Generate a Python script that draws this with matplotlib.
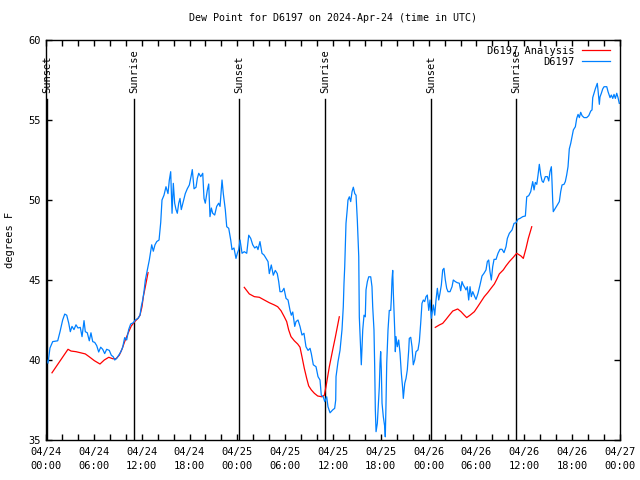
import numpy as np
import matplotlib
matplotlib.use('Agg')
import matplotlib.pyplot as plt

# hours after 2024-04-24 00:00 UTC, dew point in degrees F
obs_hours = [0.08, 0.25, 0.50, 0.84, 1.47, 1.76, 2.09, 2.35, 2.60, 2.85, 3.05, 3.26, 3.51, 3.76, 4.01,
             4.30, 4.52, 4.77, 4.93, 5.18, 5.43, 5.64, 5.86, 6.11, 6.36, 6.61, 6.86, 7.11, 7.36, 7.61,
             7.94, 8.19, 8.44, 8.62, 8.87, 9.12, 9.37, 9.62, 9.87, 10.12, 10.37, 10.62, 10.95, 11.20,
             11.54, 11.79, 11.95, 12.13, 12.29, 12.46, 12.96, 13.26, 13.46, 13.67, 13.89, 14.18, 14.39,
             14.55, 14.80, 15.05, 15.30, 15.47, 15.64, 15.81, 15.97, 16.14, 16.31, 16.47, 16.65, 16.81,
             16.97, 17.22, 17.47, 17.72, 17.98, 18.23, 18.35, 18.57, 18.82, 18.98, 19.16, 19.41, 19.66,
             19.82, 19.98, 20.23, 20.41, 20.57, 20.74, 20.91, 21.16, 21.41, 21.66, 21.83, 22.08, 22.24,
             22.49, 22.67, 22.92, 23.17, 23.33, 23.58, 23.83, 24.00, 24.17, 24.34, 24.59, 24.87, 25.18,
             25.43, 25.68, 25.93, 26.18, 26.43, 26.59, 26.84, 27.09, 27.35, 27.60, 27.85, 28.01, 28.26,
             28.51, 28.76, 29.01, 29.19, 29.35, 29.60, 29.85, 30.11, 30.36, 30.61, 30.77, 30.95, 31.20,
             31.36, 31.61, 31.86, 32.11, 32.36, 32.61, 32.87, 33.12, 33.28, 33.53, 33.87, 34.12, 34.37,
             34.53, 34.78, 34.96, 35.21, 35.37, 35.63, 35.96, 36.21, 36.34, 36.38, 36.63, 36.88, 37.13,
             37.29, 37.38, 37.47, 37.54, 37.63, 37.80, 37.88, 38.05, 38.22, 38.39, 38.55, 38.73, 38.89,
             39.05, 39.23, 39.30, 39.48, 39.55, 39.64, 39.73, 39.89, 40.05, 40.14, 40.31, 40.48, 40.73,
             40.89, 40.98, 41.14, 41.23, 41.31, 41.40, 41.56, 41.65, 41.81, 41.90, 41.98, 42.06, 42.15,
             42.31, 42.49, 42.56, 42.65, 42.74, 42.90, 42.99, 43.06, 43.24, 43.31, 43.40, 43.49, 43.57,
             43.74, 43.82, 43.90, 44.07, 44.24, 44.41, 44.57, 44.74, 44.82, 45.00, 45.16, 45.32, 45.50,
             45.57, 45.75, 45.91, 46.07, 46.25, 46.41, 46.66, 46.83, 47.00, 47.16, 47.33, 47.50, 47.67,
             47.83, 48.01, 48.17, 48.33, 48.58, 48.76, 48.92, 49.09, 49.26, 49.42, 49.59, 49.76, 49.92,
             50.09, 50.26, 50.43, 50.68, 50.93, 51.09, 51.34, 51.59, 51.84, 52.02, 52.18, 52.34, 52.52,
             52.68, 52.85, 53.02, 53.19, 53.35, 53.53, 53.78, 53.94, 54.19, 54.44, 54.69, 54.94, 55.19,
             55.36, 55.53, 55.69, 55.86, 56.03, 56.20, 56.45, 56.70, 56.95, 57.20, 57.45, 57.70, 57.87,
             58.12, 58.29, 58.46, 58.71, 58.96, 59.21, 59.46, 59.80, 60.13, 60.30, 60.55, 60.80, 61.05,
             61.22, 61.38, 61.56, 61.72, 61.88, 62.06, 62.22, 62.38, 62.63, 62.89, 63.06, 63.22, 63.39,
             63.47, 63.56, 63.63, 63.89, 64.14, 64.39, 64.56, 64.73, 64.98, 65.14, 65.31, 65.48, 65.64,
             65.82, 65.98, 66.15, 66.40, 66.57, 66.74, 66.90, 67.07, 67.24, 67.49, 67.82, 68.08, 68.33,
             68.49, 68.58, 68.74, 68.90, 69.08, 69.15, 69.24, 69.41, 69.49, 69.66, 69.83, 70.00, 70.34,
             70.50, 70.75, 70.91, 71.09, 71.25, 71.42, 71.59, 71.75, 71.91]
obs_dewpt = [40.0, 39.8, 40.75, 41.15, 41.2, 41.77, 42.5, 42.87, 42.8, 42.3, 41.77, 42.1, 41.9, 42.2, 42.0,
             42.04, 41.46, 42.46, 41.77, 41.7, 41.2, 41.7, 41.15, 41.1, 40.9, 40.5, 40.8, 40.67, 40.4, 40.67,
             40.6, 40.3, 40.2, 40.0, 40.1, 40.3, 40.5, 40.8, 41.4, 41.25, 41.9, 42.25, 42.33, 42.5,
             42.6, 42.8, 43.33, 43.75, 44.27, 45.0, 46.25, 47.2, 46.8, 47.2, 47.4, 47.5, 48.6,
             50.0, 50.3, 50.83, 50.4, 51.25, 51.77, 49.17, 51.04, 49.8, 49.4, 49.17, 49.8, 50.1,
             49.4, 49.9, 50.4, 50.7, 50.94, 51.56, 51.9, 50.7, 50.8, 51.35, 51.67, 51.46, 51.67,
             50.1, 49.8, 50.6, 51.0, 48.96, 49.5, 49.17, 49.06, 49.6, 49.8, 49.6, 51.25, 50.4,
             49.4, 48.33, 48.23, 47.5, 46.9, 47.0, 46.35, 46.67, 46.9, 47.5, 46.67, 46.77, 46.67,
             47.8, 47.6, 47.2, 47.0, 47.1, 46.9, 47.4, 46.67, 46.56, 46.35, 46.15, 45.4, 45.94,
             45.3, 45.6, 45.4, 44.9, 44.27, 44.27, 44.48, 43.85, 43.75, 43.1, 42.8, 43.0, 42.1,
             42.4, 42.5, 42.1, 41.56, 41.67, 40.83, 40.6, 40.73, 40.4, 39.7, 39.58, 38.96, 38.75,
             37.8, 37.7, 37.4, 37.7, 37.08, 36.7, 36.88, 36.98, 37.5, 38.96, 39.9, 40.6, 41.9,
             43.33, 44.8, 45.83, 47.08, 48.54, 49.48, 50.0, 50.2, 49.9, 50.52, 50.8, 50.4, 50.3,
             48.75, 46.46, 42.7, 40.6, 39.7, 40.83, 41.88, 42.8, 42.7, 44.38, 44.9, 45.2, 45.2,
             44.58, 43.33, 41.88, 39.58, 36.88, 35.52, 36.04, 36.88, 38.33, 39.8, 40.52, 39.38, 37.3,
             36.46, 35.83, 35.2, 37.3, 39.8, 41.88, 42.6, 43.1, 43.1, 43.75, 45.0, 45.6, 44.17,
             41.88, 40.52, 41.46, 40.83, 41.25, 40.42, 39.17, 38.23, 37.6, 38.54, 38.85, 39.38, 40.63,
             41.35, 41.42, 40.83, 39.7, 40.0, 40.52, 40.63, 41.15, 42.3, 43.54, 43.75, 43.65, 43.96,
             44.06, 43.1, 43.75, 42.6, 43.44, 42.8, 43.75, 44.48, 43.75, 44.17, 44.69, 45.63, 45.73,
             45.0, 44.48, 44.27, 44.27, 44.58, 45.0, 44.9, 44.83, 44.8, 44.33, 44.9, 44.69, 44.54,
             44.38, 44.58, 43.75, 44.58, 43.96, 44.27, 43.96, 43.79, 44.17, 44.69, 45.25, 45.42, 45.63,
             46.15, 46.25, 45.52, 45.0, 45.83, 46.29, 46.29, 46.67, 46.92, 46.92, 46.71, 47.08, 47.6,
             47.92, 48.02, 48.13, 48.54, 48.58, 48.8, 48.85, 48.96, 49.0, 50.2, 50.27, 50.52, 51.15,
             50.63, 51.1, 50.98, 51.56, 52.23, 51.56, 51.19, 51.1, 51.46, 51.46, 51.19, 51.77, 52.08,
             51.15, 49.94, 49.27, 49.48, 49.69, 49.9, 50.52, 50.94, 50.98, 51.15, 51.56, 52.08, 53.19,
             53.54, 53.96, 54.38, 54.58, 55.1, 55.35, 55.15, 55.48, 55.27, 55.15, 55.15, 55.27, 55.56,
             55.63, 56.4, 56.67, 56.94, 57.19, 57.29, 56.88, 55.98, 56.44, 56.67, 56.94, 57.08, 57.08,
             56.77, 56.4, 56.56, 56.35, 56.6, 56.35, 56.67, 56.4, 56.04]

nan = float('nan')
ana_hours = [0.75, 2.76, 3.14, 3.76, 4.60, 4.93, 5.43, 6.06, 6.77, 7.31, 7.87, 8.37, 8.78, 9.19, 9.53,
             9.87, 10.29, 10.70, 11.13, 11.54, 11.79, 12.04, 12.21, 12.46, 12.80, nan,
             24.87, 25.50, 26.13, 26.76, 27.38, 28.01, 28.64, 29.06, 29.48, 29.89, 30.19, 30.44, 30.73,
             31.15, 31.57, 31.86, 32.11, 32.40, 32.70, 32.95, 33.28, 33.66, 34.08, 34.62, 34.91, 35.12,
             35.54, 35.96, 36.29, 36.79, nan,
             48.83, 49.34, 49.76, 50.18, 50.59, 51.02, 51.64, 52.06, 52.47, 52.77, 53.19, 53.73, 54.15,
             54.57, 54.98, 55.41, 55.82, 56.24, 56.54, 56.86, 57.36, 57.70, 58.12, 58.62, 59.04, 59.58,
             59.87, 60.21, 60.50, 60.93]
ana_dewpt = [39.2, 40.67, 40.56, 40.52, 40.42, 40.38, 40.2, 39.96, 39.75, 40.0, 40.17, 40.08, 40.08, 40.3, 40.67,
             41.15, 41.67, 42.13, 42.4, 42.6, 42.8, 43.33, 43.96, 44.58, 45.46, nan,
             44.54, 44.13, 43.96, 43.92, 43.75, 43.58, 43.44, 43.33, 43.08, 42.7, 42.4, 41.88, 41.46,
             41.2, 41.0, 40.8, 40.2, 39.48, 38.85, 38.38, 38.13, 37.92, 37.75, 37.7, 37.8, 38.33,
             39.58, 40.63, 41.42, 42.7, nan,
             42.04, 42.19, 42.29, 42.54, 42.8, 43.06, 43.19, 43.02, 42.8, 42.65, 42.8, 43.02, 43.33,
             43.65, 43.96, 44.21, 44.48, 44.75, 45.04, 45.38, 45.63, 45.88, 46.15, 46.42, 46.67, 46.5,
             46.35, 46.98, 47.6, 48.33]

sun_hours = [0.10, 11.03, 24.20, 35.00, 48.30, 58.95]
sun_names = ['Sunset', 'Sunrise', 'Sunset', 'Sunrise', 'Sunset', 'Sunrise']

tick_hours = list(range(0, 73, 6))
tick_labels = ['04/24\n00:00', '04/24\n06:00', '04/24\n12:00', '04/24\n18:00',
               '04/25\n00:00', '04/25\n06:00', '04/25\n12:00', '04/25\n18:00',
               '04/26\n00:00', '04/26\n06:00', '04/26\n12:00', '04/26\n18:00', '04/27\n00:00']

plt.rcParams['font.family'] = ['DejaVu Sans Mono']
plt.rcParams['font.size'] = 7.5

fig = plt.figure(figsize=(6.4, 4.8), dpi=100)
ax = fig.add_axes([46/640, 40/480, 574/640, 400/480])

for h, name in zip(sun_hours, sun_names):
    ax.plot([h, h], [35, 56.3], color='black', linewidth=1.0)
    ax.text(h, 56.7, name, rotation=90, ha='center', va='bottom', fontsize=7.5)

ax.plot(ana_hours, ana_dewpt, color='#ff0000', linewidth=0.9, label='D6197 Analysis')
ax.plot(obs_hours, obs_dewpt, color='#0080ff', linewidth=0.9, label='D6197')

ax.set_xlim(0, 72)
ax.set_ylim(35, 60)
ax.set_xticks(tick_hours)
ax.set_xticklabels(tick_labels, linespacing=1.45)
ax.set_xticks(range(0, 73, 2), minor=True)
ax.set_yticks(range(35, 61, 5))
ax.tick_params(which='both', direction='in', top=True, right=True, length=4, width=1)
ax.tick_params(axis='x', pad=5)
ax.tick_params(axis='y', pad=4)
for s in ax.spines.values():
    s.set_linewidth(1)

ax.set_title('Dew Point for D6197 on 2024-Apr-24 (time in UTC)', fontsize=7.2, pad=14)
fig.text(10/640, 0.5, 'degrees F', rotation=90, ha='center', va='center', fontsize=7.5)

ax.legend(loc='upper right', bbox_to_anchor=(0.983, 0.985), frameon=False, markerfirst=False,
          handlelength=2.7, handletextpad=0.75, labelspacing=0.1, borderpad=0, borderaxespad=0)

fig.savefig('out.png', dpi=100)
